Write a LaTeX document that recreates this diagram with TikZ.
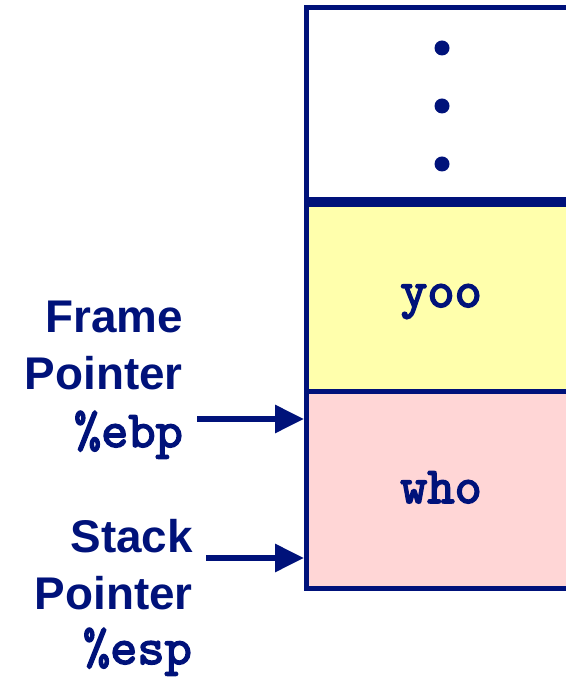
\documentclass[tikz,border=0pt]{standalone}
\usepackage{fontspec}
\setmainfont{Liberation Sans}
\newfontfamily\codefont{lmmono10-regular.otf}[FakeBold=3]
\usetikzlibrary{arrows.meta, calc}

\definecolor{navy}{RGB}{0,18,122}
\definecolor{yooyellow}{RGB}{255,255,172}
\definecolor{whopink}{RGB}{255,214,214}

\begin{document}
\begin{tikzpicture}[
  x=1bp, y=1bp,
  frame/.style={rectangle, draw=navy, line width=5bp, anchor=north west, minimum width=320bp, inner sep=0pt},
  ptrlabel/.style={anchor=base east, inner sep=0pt, text=navy, font=\fontsize{46}{57}\selectfont\bfseries},
  reglabel/.style={anchor=base east, inner sep=0pt, text=navy, font=\fontsize{52}{57}\selectfont\codefont},
  fnlabel/.style={anchor=base, inner sep=0pt, text=navy, font=\fontsize{52}{57}\selectfont\codefont},
  ptrarrow/.style={-{Triangle[length=29bp, width=27bp]}, line width=6bp, navy}
]
\useasboundingbox (0,0) rectangle (566,677);
\clip (0,0) rectangle (566,677);

% Stack frames
\node[frame, fill=white, minimum height=192bp] (older) at (304,672) {};
\node[frame, fill=yooyellow, minimum height=186.5bp] (yoo) at (304,474.5) {};
\node[frame, fill=whopink, minimum height=197bp] (who) at (304,288) {};

\foreach \y in {629, 571, 513}
  \fill[navy] (442,\y) circle (7.5bp);

\node[fnlabel] (yoo_txt) at (441,370) {yoo};
\node[fnlabel] (who_txt) at (441,174) {who};

% Frame pointer
\node[ptrlabel] (fp_1) at (183,344) {Frame};
\node[ptrlabel] (fp_2) at (183,287) {Pointer};
\node[reglabel] (fp_reg) at (183,230) {\%ebp};
\coordinate (fp_start) at (197,258);
\draw[ptrarrow] (fp_start) -- (fp_start -| who.west);

% Stack pointer
\node[ptrlabel] (sp_1) at (193,124) {Stack};
\node[ptrlabel] (sp_2) at (193,67) {Pointer};
\node[reglabel] (sp_reg) at (192,13) {\%esp};
\coordinate (sp_start) at (206,119);
\draw[ptrarrow] (sp_start) -- (sp_start -| who.west);

\end{tikzpicture}
\end{document}
